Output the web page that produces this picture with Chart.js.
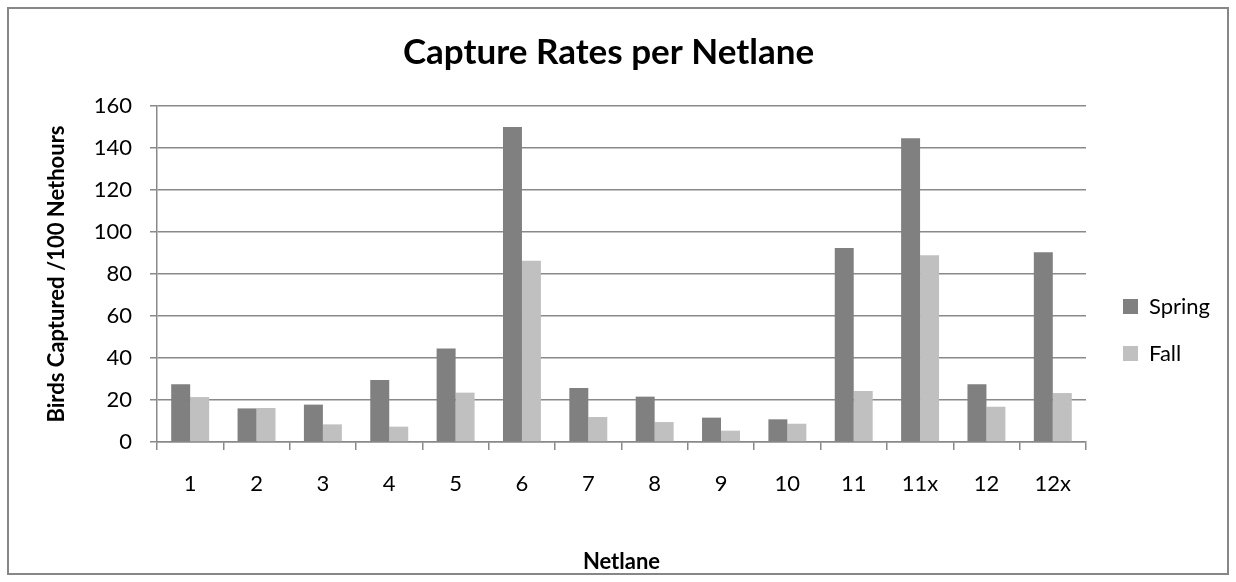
<!DOCTYPE html>
<html>
<head>
<meta charset="utf-8">
<script src="https://cdn.jsdelivr.net/npm/chart.js@4"></script>
<style>
  body { margin: 0; background: #fff; }
  #box {
    position: absolute; left: 7px; top: 7px;
    width: 1218px; height: 564px;
    border: 2px solid #878787;
  }
</style>
</head>
<body>
<div id="box"><canvas id="captureChart" width="1218" height="564"></canvas></div>
<script>
// netlanes and capture rates (birds / 100 net hours)
var netlanes = ['1', '2', '3', '4', '5', '6', '7', '8', '9', '10', '11', '11x', '12', '12x'];
var springRates = [27.5, 16, 17.8, 29.5, 44.5, 150, 25.7, 21.6, 11.6, 10.8, 92.4, 144.6, 27.5, 90.3];
var fallRates = [21.4, 16.2, 8.4, 7.3, 23.5, 86.3, 11.9, 9.5, 5.4, 8.7, 24.3, 88.9, 16.8, 23.3];
var yTicks = [0, 20, 40, 60, 80, 100, 120, 140, 160];

const ctx = document.getElementById('captureChart');
const fontName = 'Lato';
const gridColor = '#898989';

// move the legend to where excel puts it
var legendSpot = {
   id: 'legendSpot',
   afterLayout: function(chart) {
      var lg = chart.legend;
      var h = lg.bottom - lg.top;
      var w = lg.right - lg.left;
      lg.left = 1089;
      lg.right = lg.left + w;
      lg.top = 321 - h / 2;
      lg.bottom = lg.top + h;
   }
};

new Chart(ctx, {
   type: 'bar',
   data: {
      labels: netlanes,
      datasets: [{
         label: 'Spring',
         data: springRates,
         backgroundColor: '#808080',
         borderWidth: 0
      }, {
         label: 'Fall',
         data: fallRates,
         backgroundColor: '#c0c0c0',
         borderWidth: 0
      }]
   },
   options: {
      responsive: false,
      animation: false,
      layout: { padding: { left: 0, right: 19, top: 0, bottom: 0 } },
      datasets: {
         bar: { barPercentage: 1, categoryPercentage: 0.572 }
      },
      plugins: {
         title: {
            display: true,
            text: 'Capture Rates per Netlane',
            color: '#000',
            font: { family: fontName, size: 35, weight: 'bold' },
            padding: { top: 23, bottom: 32 }
         },
         legend: {
            position: 'right',
            labels: {
               color: '#000',
               font: { family: fontName, size: 22 },
               boxWidth: 15,
               boxHeight: 15,
               padding: 25
            }
         },
         tooltip: { enabled: false }
      },
      scales: {
         x: {
            afterFit: function(s) { s.height = 131; },
            grid: {
               offset: true,
               drawOnChartArea: false,
               color: gridColor,
               lineWidth: 1.5,
               tickLength: 8
            },
            border: { color: gridColor, width: 1.5 },
            ticks: {
               color: '#000',
               font: { family: fontName, size: 22 },
               padding: 21,
               maxRotation: 0
            },
            title: {
               display: true,
               text: 'Netlane',
               color: '#000',
               font: { family: fontName, size: 22, weight: 'bold', lineHeight: 1 },
               padding: { top: 0, bottom: 0 }
            }
         },
         y: {
            min: 0,
            max: 160,
            afterFit: function(s) { s.width = 148; },
            afterBuildTicks: function(s) {
               s.ticks = yTicks.map(function(v) { return { value: v }; });
            },
            grid: {
               color: gridColor,
               lineWidth: 1.5,
               tickLength: 7
            },
            border: { color: gridColor, width: 1.5 },
            ticks: {
               color: '#000',
               font: { family: fontName, size: 22 },
               padding: 18
            },
            title: {
               display: true,
               text: 'Birds Captured /100 Nethours',
               color: '#000',
               font: { family: fontName, size: 22, weight: 'bold' },
               padding: { top: 35, bottom: 0 }
            }
         }
      }
   },
   plugins: [legendSpot]
});
</script>
</body>
</html>
